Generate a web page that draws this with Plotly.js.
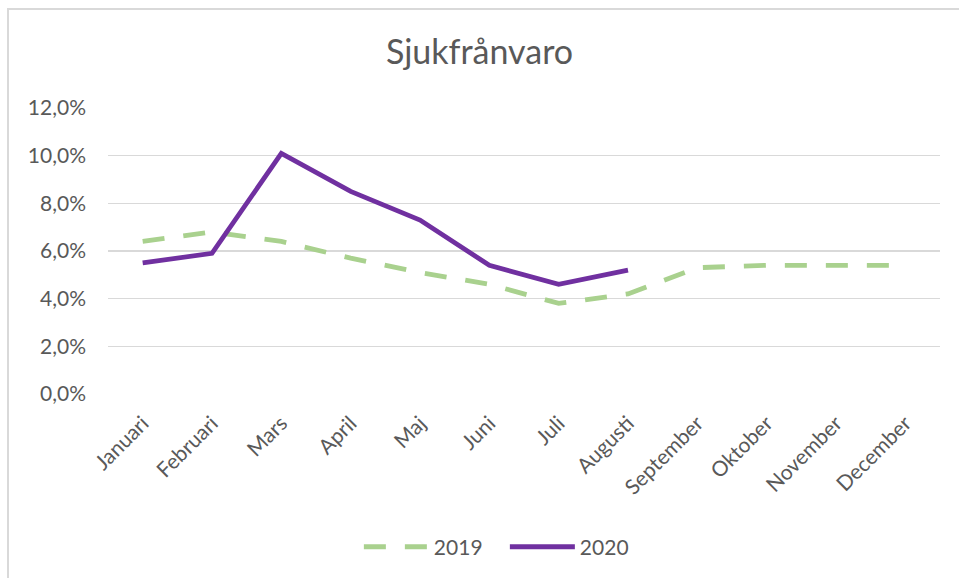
<!DOCTYPE html>
<html>
<head>
<meta charset="utf-8">
<script src="https://cdn.plot.ly/plotly-3.0.1.min.js"></script>
<style>
  html, body { margin: 0; padding: 0; overflow: hidden; background: #fff; }
  #chart { width: 959px; height: 578px; }
  #frame { position: absolute; left: 7px; top: 8px; width: 1000px; height: 700px;
           border: 2px solid #d9d9d9; pointer-events: none; }
</style>
</head>
<body>
<div id="chart"></div>
<div id="frame"></div>
<script>
const months = ["Januari","Februari","Mars","April","Maj","Juni","Juli","Augusti","September","Oktober","November","December"];
const values2019 = [0.064, 0.068, 0.064, 0.057, 0.051, 0.046, 0.038, 0.042, 0.053, 0.054, 0.054, 0.054];
const months2020 = ["Januari","Februari","Mars","April","Maj","Juni","Juli","Augusti"];
const values2020 = [0.055, 0.059, 0.101, 0.085, 0.073, 0.054, 0.046, 0.052];
const yTicks = [0, 0.02, 0.04, 0.06, 0.08, 0.10, 0.12];

const font = "Lato, 'Open Sans', sans-serif";
const textColor = "#595959";

const traces = [
  {
    x: months, y: values2019, name: "2019", type: "scatter", mode: "lines",
    line: { color: "#A9D18E", width: 4.8, dash: "22px,19px" }
  },
  {
    x: months2020, y: values2020, name: "2020", type: "scatter", mode: "lines",
    line: { color: "#7030A0", width: 4.8 }
  }
];

const layout = {
  width: 959, height: 578,
  margin: { l: 108, r: 19, t: 108, b: 183 },
  paper_bgcolor: "#ffffff", plot_bgcolor: "#ffffff",
  separators: ", ",
  font: { family: font, color: textColor, size: 21 },
  title: {
    text: "Sjukfrånvaro",
    font: { family: font, size: 34, color: textColor },
    x: 0.5, xanchor: "center", y: 1 - 52/578, yanchor: "middle", yref: "container"
  },
  xaxis: {
    type: "category", categoryorder: "array", categoryarray: months,
    range: [-0.5, months.length - 0.5],
    tickangle: -45, showgrid: false, zeroline: false, showline: false,
    ticks: "", ticklabelstandoff: 12,
    tickfont: { family: font, size: 21, color: textColor },
    automargin: false
  },
  yaxis: {
    range: [0, 0.12], tickvals: yTicks, tickformat: ".1%",
    showgrid: true, gridcolor: "#d9d9d9", gridwidth: 1.5,
    zeroline: false, showline: false, ticks: "",
    ticklabelstandoff: 21,
    tickfont: { family: font, size: 21, color: textColor },
    automargin: false
  },
  showlegend: true,
  legend: {
    orientation: "h", x: 0.477, xanchor: "center", y: -0.53, yanchor: "middle",
    font: { family: font, size: 21, color: textColor },
    itemwidth: 65, entrywidth: 66, entrywidthmode: "pixels", traceorder: "normal"
  }
};

Plotly.newPlot("chart", traces, layout, { staticPlot: true, displayModeBar: false });
</script>
</body>
</html>
